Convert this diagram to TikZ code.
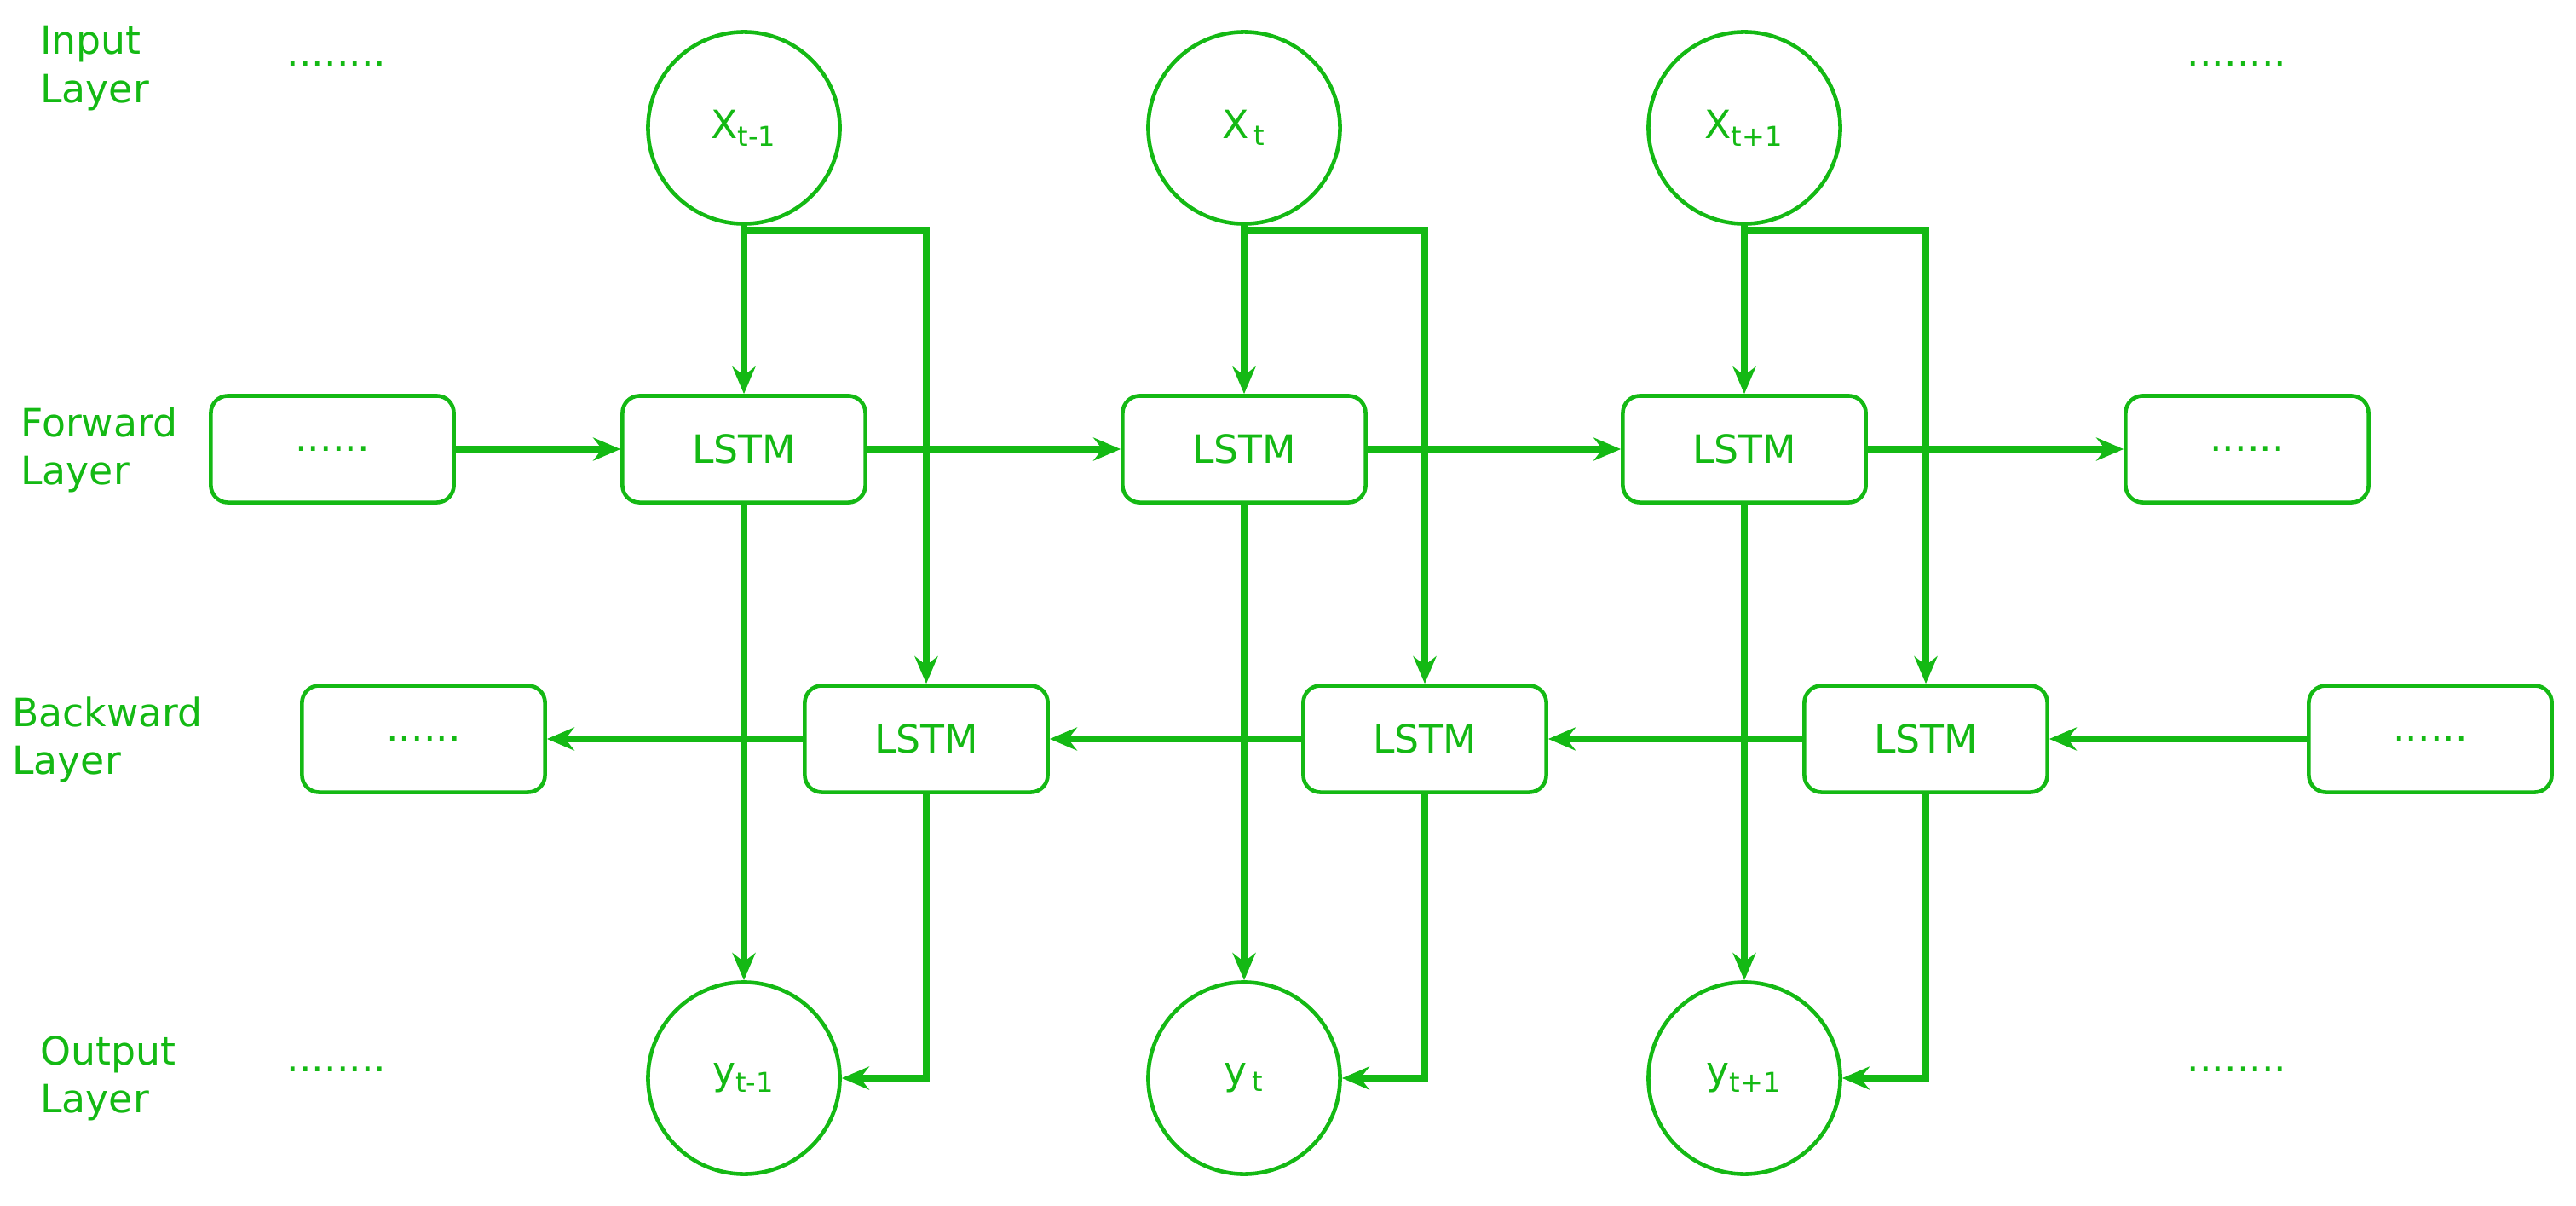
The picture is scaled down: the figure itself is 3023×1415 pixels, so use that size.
\documentclass[tikz,border=0pt]{standalone}
\usepackage{fontspec}
\setmainfont{DejaVu Sans}
\usetikzlibrary{arrows.meta}
\definecolor{g}{RGB}{20,185,20}
\begin{document}
\begin{tikzpicture}[x=0.01cm,y=-0.01cm,
  every node/.style={text=g,font=\fontsize{13}{16}\selectfont},
  circ/.style={draw=g,line width=1.3pt,circle,minimum size=2.25cm,inner sep=0},
  box/.style={draw=g,line width=1.3pt,rounded corners=0.2cm,minimum width=2.85cm,minimum height=1.25cm,inner sep=0},
  ar/.style={draw=g,line width=2.2pt,-{Stealth[length=0.32cm,width=0.27cm]}},
  lab/.style={align=left,anchor=west}]
\useasboundingbox (0,0) rectangle (3023,1415);
% labels
\node[lab] (l1) at (35,80) {Input\\Layer};
\node[lab] (l2) at (12,528) {Forward\\Layer};
\node[lab] (l3) at (2,868) {Backward\\Layer};
\node[lab] (l4) at (35,1265) {Output\\Layer};
\node (d1) at (395,75) {........};
\node (d2) at (2625,75) {........};
\node (d3) at (395,1255) {........};
\node (d4) at (2625,1255) {........};
% inputs
\node[circ] (x1) at (873,150) {X\textsubscript{t-1}};
\node[circ] (x2) at (1460,150) {X\textsubscript{\,t}};
\node[circ] (x3) at (2047,150) {X\textsubscript{t+1}};
\node[circ] (y1) at (873,1265) {y\textsubscript{t-1}};
\node[circ] (y2) at (1460,1265) {y\textsubscript{\,t}};
\node[circ] (y3) at (2047,1265) {y\textsubscript{t+1}};
% forward
\node[box] (fl) at (390,527) {......};
\node[box] (f1) at (873,527) {LSTM};
\node[box] (f2) at (1460,527) {LSTM};
\node[box] (f3) at (2047,527) {LSTM};
\node[box] (fr) at (2637,527) {......};
% backward
\node[box] (bl) at (497,867) {......};
\node[box] (b1) at (1087,867) {LSTM};
\node[box] (b2) at (1672,867) {LSTM};
\node[box] (b3) at (2260,867) {LSTM};
\node[box] (br) at (2852,867) {......};
% horizontal
\draw[ar] (fl) -- (f1); \draw[ar] (f1) -- (f2); \draw[ar] (f2) -- (f3); \draw[ar] (f3) -- (fr);
\draw[ar] (br) -- (b3); \draw[ar] (b3) -- (b2); \draw[ar] (b2) -- (b1); \draw[ar] (b1) -- (bl);
% verticals
\foreach \i in {1,2,3}{
  \draw[ar] (x\i.south) -- (f\i.north);
  \draw[ar] (x\i.south) -- ++(0,5) -| (b\i.north);
  \draw[ar] (f\i.south) -- (y\i.north);
  \draw[ar] (b\i.south) |- (y\i.east);
}
\end{tikzpicture}
\end{document}
